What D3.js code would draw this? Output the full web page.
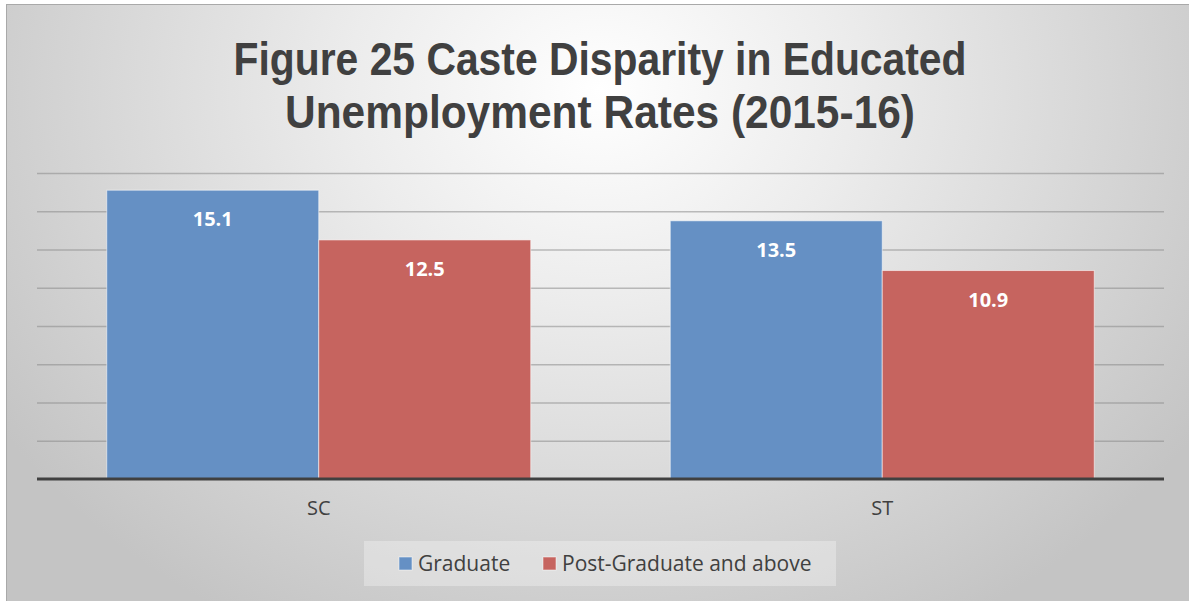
<!DOCTYPE html>
<html>
<head>
<meta charset="utf-8">
<script src="https://cdn.jsdelivr.net/npm/d3@7"></script>
<style>
  html, body { margin: 0; padding: 0; background: #ffffff; }
  svg { display: block; }
</style>
</head>
<body>
<svg id="chart" width="1189" height="601"></svg>
<script>
// Unemployment rate (%) among educated SC/ST, 2015-16
const categories = ["SC", "ST"];
const seriesNames = ["Graduate", "Post-Graduate and above"];
const graduate = [15.1, 13.5];
const postGraduate = [12.5, 10.9];
const yTicks = [2, 4, 6, 8, 10, 12, 14, 16];
const titleLines = ["Figure 25 Caste Disparity in Educated", "Unemployment Rates (2015-16)"];

const colors = ["#6590c4", "#c6645f"];
const seriesValues = [graduate, postGraduate];

const W = 1189, H = 601;
const svg = d3.select("#chart");
const defs = svg.append("defs");

const grad = defs.append("radialGradient")
  .attr("id", "bg").attr("gradientUnits", "userSpaceOnUse")
  .attr("cx", 600).attr("cy", 90).attr("r", 720)
  .attr("gradientTransform", "translate(600,90) scale(1,0.85) translate(-600,-90)");
grad.append("stop").attr("offset", "0%").attr("stop-color", "#ffffff");
grad.append("stop").attr("offset", "35%").attr("stop-color", "#ececec");
grad.append("stop").attr("offset", "100%").attr("stop-color", "#c4c4c4");

// chart area background
svg.append("rect")
  .attr("x", 6.5).attr("y", 4.5).attr("width", W - 6).attr("height", H - 4)
  .attr("fill", "url(#bg)").attr("stroke", "#a9a9a9").attr("stroke-width", 1);

// title
const title = svg.append("g")
  .attr("font-family", "'Liberation Sans Narrow', 'Liberation Sans', sans-serif")
  .attr("font-weight", 700).attr("fill", "#404040").attr("text-anchor", "middle");
const titleWidths = [733, 630];
titleLines.forEach((t, i) => {
  title.append("text")
    .attr("x", 600).attr("y", 75 + i * 53)
    .attr("font-size", 46)
    .attr("textLength", titleWidths[i])
    .attr("lengthAdjust", "spacingAndGlyphs")
    .text(t);
});

// scales
const plot = { left: 37, right: 1164, top: 173, bottom: 479 };
const x0 = d3.scaleBand().domain(categories)
  .range([plot.left, plot.right]).paddingInner(0.2476).paddingOuter(0.1238);
const x1 = d3.scaleBand().domain(seriesNames).range([0, x0.bandwidth()]);
const y = d3.scaleLinear().domain([0, 16]).range([plot.bottom, plot.top]);

// gridlines
svg.append("g")
  .attr("transform", `translate(${plot.left},0)`)
  .call(d3.axisLeft(y).tickValues(yTicks).tickSize(-(plot.right - plot.left)).tickFormat(""))
  .call(g => g.select(".domain").remove())
  .call(g => g.selectAll(".tick line").attr("stroke", "#8a8a8a").attr("stroke-opacity", 0.55).attr("stroke-width", 1.5));

// bars
const groups = svg.append("g").selectAll("g")
  .data(categories).join("g")
  .attr("transform", d => `translate(${x0(d)},0)`);

groups.selectAll("rect")
  .data((c, ci) => seriesNames.map((s, si) => ({ s, si, v: seriesValues[si][ci] })))
  .join("rect")
  .attr("x", d => x1(d.s))
  .attr("y", d => y(d.v))
  .attr("width", x1.bandwidth())
  .attr("height", d => y(0) - y(d.v))
  .attr("fill", d => colors[d.si])
  .attr("stroke", "rgba(255,255,255,0.55)")
  .attr("stroke-width", 1);

groups.selectAll("text")
  .data((c, ci) => seriesNames.map((s, si) => ({ s, si, v: seriesValues[si][ci] })))
  .join("text")
  .attr("x", d => x1(d.s) + x1.bandwidth() / 2)
  .attr("y", d => y(d.v) + 36)
  .attr("text-anchor", "middle")
  .attr("font-family", "'Open Sans', 'Liberation Sans', sans-serif")
  .attr("font-weight", 700).attr("font-size", 20)
  .attr("fill", "#ffffff")
  .text(d => d3.format(".1f")(d.v));

// category axis
svg.append("g")
  .attr("transform", `translate(0,${plot.bottom})`)
  .call(d3.axisBottom(x0).tickSize(0).tickPadding(22))
  .call(g => g.select(".domain").attr("stroke", "#404040").attr("stroke-width", 3)
    .attr("d", `M${plot.left},0H${plot.right}`))
  .call(g => g.selectAll(".tick text")
    .attr("font-family", "'Open Sans', 'Liberation Sans', sans-serif")
    .attr("font-size", 20).attr("fill", "#404040"));

// legend
const legend = svg.append("g");
legend.append("rect")
  .attr("x", 364).attr("y", 541).attr("width", 472).attr("height", 45)
  .attr("fill", "#ffffff").attr("fill-opacity", 0.3);
const legendX = [399, 543];
seriesNames.forEach((s, i) => {
  legend.append("rect")
    .attr("x", legendX[i]).attr("y", 557).attr("width", 13).attr("height", 13)
    .attr("fill", colors[i]).attr("stroke", "rgba(255,255,255,0.5)");
  legend.append("text")
    .attr("x", legendX[i] + 19).attr("y", 571)
    .attr("font-family", "'Open Sans', 'Liberation Sans', sans-serif")
    .attr("font-size", 21).attr("fill", "#404040")
    .text(s);
});
</script>
</body>
</html>
